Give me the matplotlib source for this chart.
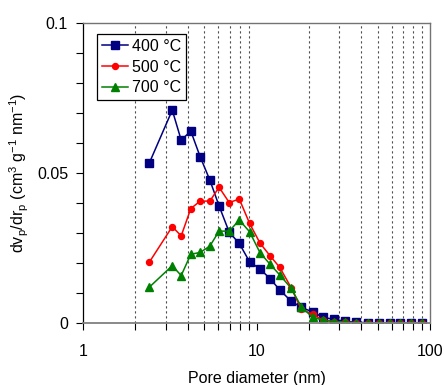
import matplotlib
matplotlib.use("Agg")
import matplotlib.pyplot as plt
from matplotlib import ticker

plt.rcParams["font.family"] = ["Liberation Sans", "DejaVu Sans"]
plt.rcParams["mathtext.fontset"] = "custom"
plt.rcParams["mathtext.rm"] = "Liberation Sans"
plt.rcParams["mathtext.it"] = "Liberation Sans"
plt.rcParams["mathtext.default"] = "regular"

# pore diameters (nm), shared by all three samples
diameter = [2.40, 3.26, 3.67, 4.17, 4.72, 5.37, 6.07, 6.95, 7.94, 9.10,
            10.46, 11.98, 13.6, 15.8, 18.1, 21.0, 24.1, 28.0, 32.4, 37.6,
            43.9, 50.9, 58.6, 67.2, 77.3, 90.4]

# dVp/drp (cm3 g-1 nm-1)
psd_400 = [0.0532, 0.0709, 0.0609, 0.0639, 0.0554, 0.0476, 0.0390, 0.0302, 0.0265, 0.0204,
           0.0180, 0.0147, 0.0110, 0.0073, 0.0052, 0.0037, 0.0019, 0.0012, 0.0006, 0.0002,
           0.0001, 0.0000, 0.0000, 0.0000, 0.0000, 0.0000]
psd_500 = [0.0202, 0.0321, 0.0290, 0.0381, 0.0406, 0.0406, 0.0452, 0.0401, 0.0413, 0.0332,
           0.0266, 0.0223, 0.0185, 0.0118, 0.0046, 0.0029, 0.0010, 0.0004, 0.0002, 0.0001,
           0.0000, 0.0000, 0.0000, 0.0000, 0.0000, 0.0000]
psd_700 = [0.0119, 0.0191, 0.0158, 0.0229, 0.0235, 0.0256, 0.0306, 0.0306, 0.0343, 0.0304,
           0.0234, 0.0195, 0.0160, 0.0116, 0.0054, 0.0019, 0.0010, 0.0005, 0.0003, 0.0001,
           0.0001, 0.0000, 0.0000, 0.0000, 0.0000, 0.0000]

labels = ["400 °C", "500 °C", "700 °C"]
grid_pos = [2, 3, 4, 5, 6, 7, 8, 9, 20, 30, 40, 50, 60, 70, 80, 90]

fig = plt.figure(figsize=(4.44, 3.85), dpi=100)
ax = fig.add_axes([0.1876, 0.161, 0.7809, 0.780])

for g in grid_pos:
    ax.axvline(g, color="0.3", lw=0.8, ls=(0, (2, 2.5)), zorder=0)

ax.plot(diameter, psd_400, color="#000080", marker="s", ms=5.2, lw=1.1, label=labels[0])
ax.plot(diameter, psd_500, color="#ff0000", marker="o", ms=4.3, lw=1.1, label=labels[1])
ax.plot(diameter, psd_700, color="#008000", marker="^", ms=5.8, lw=1.1, label=labels[2])

ax.set_xscale("log")
ax.set_xlim(1, 100)
ax.set_ylim(0, 0.1)
ax.xaxis.set_major_locator(ticker.FixedLocator([1, 10, 100]))
ax.xaxis.set_major_formatter(ticker.FixedFormatter(["1", "10", "100"]))
ax.xaxis.set_minor_locator(ticker.FixedLocator(grid_pos))
ax.xaxis.set_minor_formatter(ticker.NullFormatter())
ax.yaxis.set_major_locator(ticker.FixedLocator([0, 0.05, 0.1]))
ax.yaxis.set_major_formatter(ticker.FixedFormatter(["0", "0.05", "0.1"]))
ax.yaxis.set_minor_locator(ticker.MultipleLocator(0.01))

ax.tick_params(which="both", direction="out", labelsize=11.5, colors="black")
ax.tick_params(which="major", length=5, width=0.8)
ax.tick_params(which="minor", length=5, width=0.8)
ax.tick_params(axis="x", pad=10)
ax.tick_params(axis="y", pad=6)

ax.spines["left"].set_color("black")
ax.spines["left"].set_linewidth(0.9)
ax.spines["bottom"].set_color("0.5")
ax.spines["bottom"].set_linewidth(1.3)
for side in ("top", "right"):
    ax.spines[side].set_color("0.45")
    ax.spines[side].set_linewidth(1.0)

ax.set_xlabel("Pore diameter (nm)", fontsize=11.5, labelpad=9)
ax.set_ylabel("dv$_p$/dr$_p$ (cm$^3$ g$^{-1}$ nm$^{-1}$)", fontsize=11.5, labelpad=4)

leg = ax.legend(loc="upper left", bbox_to_anchor=(0.04, 0.962), fontsize=11.5,
                frameon=True, fancybox=False, framealpha=1, edgecolor="black",
                handlelength=1.6, handletextpad=0.3, borderpad=0.3,
                labelspacing=0.35, borderaxespad=0)
leg.get_frame().set_linewidth(0.9)

fig.savefig("out.png", dpi=100)
